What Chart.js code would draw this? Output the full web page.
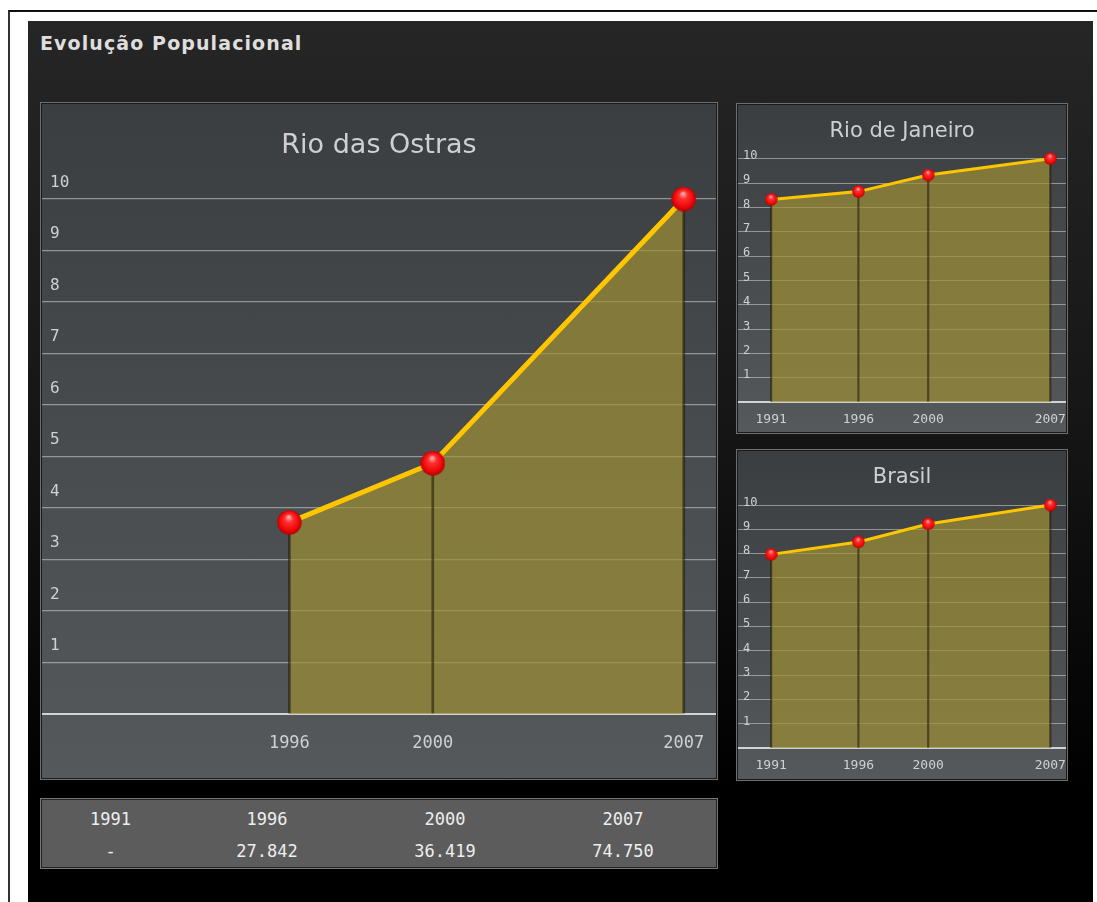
<!DOCTYPE html>
<html><head><meta charset="utf-8">
<script src="https://cdn.jsdelivr.net/npm/chart.js@4.4.1/dist/chart.umd.min.js"></script>
<style>
html,body{margin:0;padding:0;background:#fff;width:1097px;height:902px;overflow:hidden;position:relative;font-family:"DejaVu Sans",sans-serif}
#frame{position:absolute;left:8px;top:10px;width:1100px;height:900px;border-top:2px solid #111;border-left:2px solid #333;}
#bg{position:absolute;left:28px;top:21px;width:1065px;height:881px;background:linear-gradient(#262626 0%,#161616 45%,#000 88%);}
#title{position:absolute;left:40px;top:32px;font:bold 19px "DejaVu Sans";letter-spacing:1.1px;color:#dedede;white-space:nowrap}
.panel{position:absolute;border:1px solid #6f6f6f;box-shadow:inset 0 0 0 1px #1a1a1a;background:linear-gradient(#3b3e41,#55595b);box-sizing:border-box}
.panel canvas{position:absolute;left:1px;top:1px}
#table{position:absolute;left:40px;top:798px;width:678px;height:71px;border:1px solid #777;box-shadow:inset 0 0 0 1px #222;background:#5c5c5c;box-sizing:border-box;
  display:grid;grid-template-columns:137px 176px 180px 176px;grid-template-rows:32px 32px;padding:4px 0 0 1px;}
#table div{text-align:center;font:17px "DejaVu Sans Mono";line-height:32px;color:#eee;}
</style></head>
<body>
<div id="frame"></div>
<div id="bg"></div>
<div id="title">Evolução Populacional</div>
<div class="panel" style="left:40px;top:102px;width:678px;height:678px"><canvas id="main" width="674" height="674"></canvas></div>
<div class="panel" style="left:736px;top:103px;width:332px;height:331px"><canvas id="rj" width="328" height="327"></canvas></div>
<div class="panel" style="left:736px;top:449px;width:332px;height:332px"><canvas id="br" width="328" height="328"></canvas></div>
<div id="table"></div>
<script>
// ---- data ----
const years = [1991, 1996, 2000, 2007];
const rioDasOstras = [null, 3.72, 4.87, 10];
const rioDeJaneiro = [8.33, 8.65, 9.33, 10];
const brasil = [7.97, 8.48, 9.22, 10];
const tableYears = ['1991', '1996', '2000', '2007'];
const tablePopulation = ['-', '27.842', '36.419', '74.750'];
const chartTitles = ['Rio das Ostras', 'Rio de Janeiro', 'Brasil'];

// ---- table ----
const tbl = document.getElementById('table');
[tableYears, tablePopulation].forEach(row => row.forEach(t => {
  const d = document.createElement('div'); d.textContent = t; tbl.appendChild(d);
}));

function sphere(d){
  const c = document.createElement('canvas'); c.width = d; c.height = d;
  const g = c.getContext('2d'); const r = d/2;
  const grad = g.createRadialGradient(r*0.95, r*0.55, r*0.05, r, r, r);
  grad.addColorStop(0, '#ffb0b0');
  grad.addColorStop(0.3, '#ff3030');
  grad.addColorStop(0.75, '#ee0808');
  grad.addColorStop(1, '#b00000');
  g.fillStyle = grad; g.beginPath(); g.arc(r, r, r-0.3, 0, Math.PI*2); g.fill();
  return c;
}

function noPad(s){ s.paddingLeft = 0; s.paddingRight = 0; s.paddingTop = 0; s.paddingBottom = 0; }

function makeChart(id, values, cfg){
  const pts = years.map((x,i)=>({x:x, y:values[i]})).filter(p=>p.y!==null);
  const tickYears = pts.map(p=>p.x);
  return new Chart(document.getElementById(id), {
    type: 'line',
    data: { datasets: [
      { type:'line', data:pts, fill:'origin', backgroundColor:'rgba(157,142,52,0.7)', borderWidth:0, pointRadius:0, tension:0, order:3, clip:false },
      { type:'bar', data:pts, backgroundColor:'rgba(25,22,8,0.55)', barThickness:cfg.drop, grouped:false, order:2, clip:false },
      { type:'line', data:pts, fill:false, borderColor:'#ffc600', borderWidth:cfg.lw, tension:0,
        pointStyle:sphere(cfg.pt), pointRadius:cfg.pt/2, order:1, clip:false }
    ]},
    options: {
      responsive:false, animation:false, events:[],
      layout:{ padding:0, autoPadding:false },
      plugins:{
        legend:{display:false}, tooltip:{enabled:false},
        title:{ display:true, text:cfg.title, color:'#cfcfcf',
          font:{family:'DejaVu Sans', size:cfg.tsize, weight:'normal'},
          padding:{top:cfg.tTop, bottom:cfg.tBottom} }
      },
      scales:{
        x:{ type:'linear', min:1989.1, max:2007.9, offset:false,
          grid:{display:false}, border:{display:false},
          afterBuildTicks: s => { s.ticks = tickYears.map(v=>({value:v})); },
          afterFit: s => { s.height = cfg.xh; noPad(s); },
          ticks:{ color:'#d0d0d0', font:{family:'DejaVu Sans Mono', size:cfg.xfs}, padding:cfg.xpad,
            maxRotation:0, autoSkip:false, callback: v => String(v) } },
        y:{ min:0, max:10, border:{display:false},
          afterFit: s => { s.width = 0; noPad(s); },
          grid:{ drawTicks:false,
            color: c => c.tick && c.tick.value === 0 ? '#d2d2d2' : 'rgba(200,200,200,0.6)',
            lineWidth: c => c.tick && c.tick.value === 0 ? 2 : cfg.gw },
          ticks:{ stepSize:1, mirror:true, padding:cfg.ypad, labelOffset:cfg.yoff, color:'#d0d0d0',
            font:{family:'DejaVu Sans Mono', size:cfg.yfs}, callback: v => v === 0 ? '' : String(v) } }
      }
    }
  });
}

makeChart('main', rioDasOstras, { title:chartTitles[0], tsize:27, tTop:25.8, tBottom:36.8, xh:64, xfs:17, xpad:11,
  yfs:16, ypad:8, yoff:-16.5, lw:5, pt:25, drop:2, gw:1.2 });
makeChart('rj', rioDeJaneiro, { title:chartTitles[1], tsize:21, tTop:13.9, tBottom:14.6, xh:29.7, xfs:13, xpad:2,
  yfs:12, ypad:5, yoff:-2.8, lw:3, pt:13, drop:1.5, gw:1 });
makeChart('br', brasil, { title:chartTitles[2], tsize:21, tTop:13.6, tBottom:15.2, xh:30.7, xfs:13, xpad:2,
  yfs:12, ypad:5, yoff:-2.5, lw:3, pt:13, drop:1.5, gw:1 });
</script>
</body></html>
